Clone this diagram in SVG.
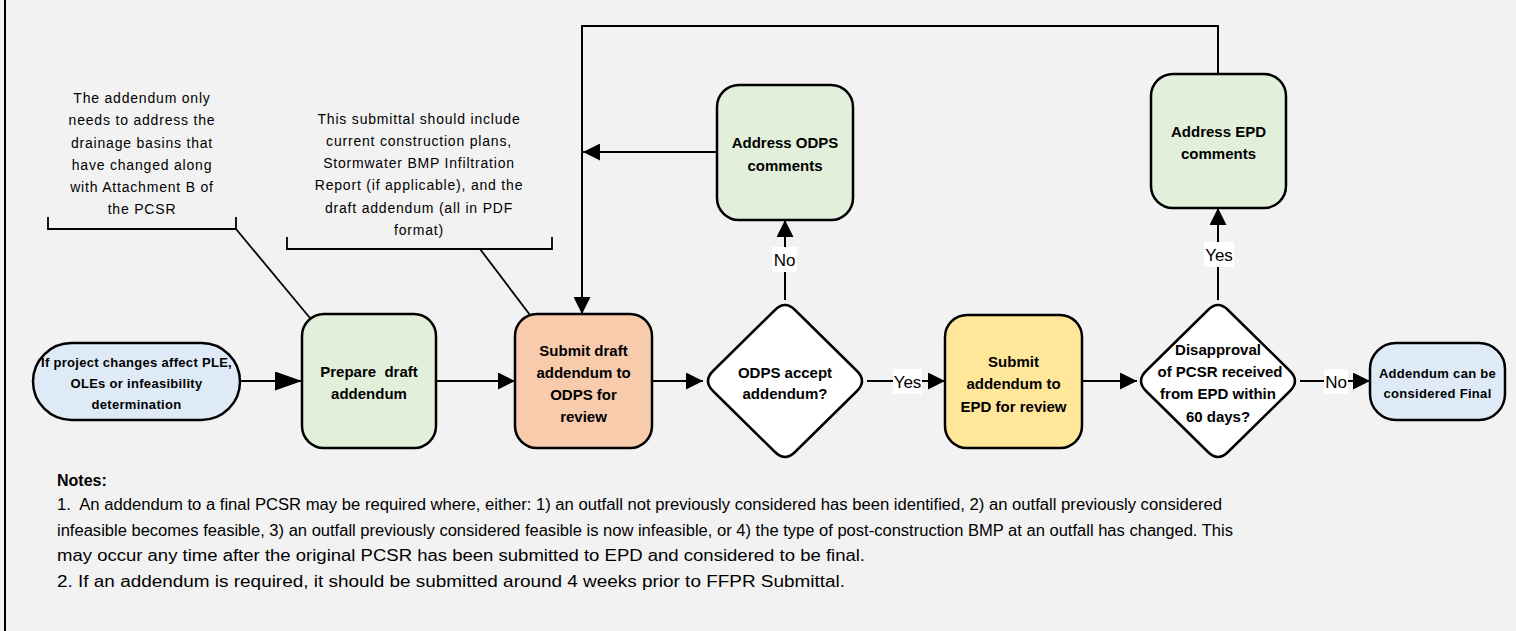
<svg xmlns="http://www.w3.org/2000/svg" width="1516" height="631" viewBox="0 0 1516 631">
<defs>
<style>
.bg{fill:#f2f2f2}
.box{stroke:#000;stroke-width:2.5}
.green{fill:#e2efda}
.blue{fill:#deebf7}
.orange{fill:#f8cbad}
.yellow{fill:#ffe699}
.white{fill:#ffffff}
.nt{font-family:"Liberation Sans",Arial,sans-serif;font-weight:bold;font-size:15px;text-anchor:middle;fill:#000}
.st{font-family:"Liberation Sans",Arial,sans-serif;font-weight:bold;font-size:13px;text-anchor:middle;fill:#000;letter-spacing:0.3px}
.ann{font-family:"Liberation Sans",Arial,sans-serif;font-size:14px;text-anchor:middle;fill:#000;letter-spacing:0.8px}
.lbl{font-family:"Liberation Sans",Arial,sans-serif;font-size:17px;text-anchor:middle;fill:#000}
.note{font-family:"Liberation Sans",Arial,sans-serif;font-size:16px;fill:#000;white-space:pre}
.pre{white-space:pre}
.con{fill:none;stroke:#000;stroke-width:2}
.thin{fill:none;stroke:#000;stroke-width:1.8}
</style>
<marker id="ah" viewBox="0 0 10 10" refX="10" refY="5" markerUnits="userSpaceOnUse" markerWidth="17" markerHeight="17" orient="auto"><path d="M0,0 L10,5 L0,10 z" fill="#000"/></marker>
<marker id="ahb" viewBox="0 0 10 10" refX="10" refY="5" markerUnits="userSpaceOnUse" markerWidth="27" markerHeight="19" orient="auto" preserveAspectRatio="none"><path d="M0,0 L10,5 L0,10 z" fill="#000"/></marker>
</defs>
<rect class="bg" x="0" y="0" width="1516" height="631"/>
<line x1="5" y1="0" x2="5" y2="631" stroke="#000" stroke-width="2"/>

<g id="connectors">
<line class="con" x1="240" y1="381" x2="302" y2="381" marker-end="url(#ahb)"/>
<line class="con" x1="436" y1="381" x2="515" y2="381" marker-end="url(#ah)"/>
<line class="con" x1="652" y1="381" x2="703" y2="381" marker-end="url(#ah)"/>
<line class="con" x1="867" y1="381" x2="945" y2="381" marker-end="url(#ah)"/>
<line class="con" x1="1082" y1="381" x2="1137" y2="381" marker-end="url(#ah)"/>
<line class="con" x1="1300" y1="381" x2="1370" y2="381" marker-end="url(#ah)"/>
<line class="con" x1="785" y1="300" x2="785" y2="220" marker-end="url(#ah)"/>
<line class="con" x1="1218" y1="300" x2="1218" y2="208" marker-end="url(#ah)"/>
<line class="con" x1="717" y1="152" x2="583" y2="152" marker-end="url(#ah)"/>
<polyline class="con" points="1218,74 1218,26 582,26 582,314" marker-end="url(#ah)"/>
<g id="labels">
<rect x="772" y="247" width="25" height="25" fill="#fff"/>
<text class="lbl" x="784.5" y="266">No</text>
<rect x="893" y="369" width="29" height="25" fill="#fff"/>
<text class="lbl" x="907.5" y="388">Yes</text>
<rect x="1204" y="242" width="30" height="25" fill="#fff"/>
<text class="lbl" x="1219" y="261">Yes</text>
<rect x="1324" y="369" width="24" height="25" fill="#fff"/>
<text class="lbl" x="1336" y="388">No</text>
</g>
</g>

<g id="annotation1">
<path class="thin" d="M48,217 L48,229 L236,229 L236,217"/>
<line class="thin" x1="236" y1="229" x2="310" y2="318"/>
<text class="ann" x="142" y="103">The addendum only</text>
<text class="ann" x="142" y="125">needs to address the</text>
<text class="ann" x="142" y="148">drainage basins that</text>
<text class="ann" x="142" y="170">have changed along</text>
<text class="ann" x="142" y="192">with Attachment B of</text>
<text class="ann" x="142" y="214">the PCSR</text>
</g>

<g id="annotation2">
<path class="thin" d="M287,237 L287,249 L552,249 L552,237"/>
<line class="thin" x1="480" y1="249" x2="530" y2="315"/>
<text class="ann" x="419" y="124">This submittal should include</text>
<text class="ann" x="419" y="146">current construction plans,</text>
<text class="ann" x="419" y="168">Stormwater BMP Infiltration</text>
<text class="ann" x="419" y="190">Report (if applicable), and the</text>
<text class="ann" x="419" y="213">draft addendum (all in PDF</text>
<text class="ann" x="419" y="235">format)</text>
</g>

<g id="start">
<rect class="box blue" x="33" y="343" width="207" height="77" rx="38.5" ry="38.5"/>
<text class="st" x="136.5" y="367">If project changes affect PLE,</text>
<text class="st" x="136.5" y="388">OLEs or infeasibility</text>
<text class="st" x="136.5" y="409">determination</text>
</g>

<g id="prepare">
<rect class="box green" x="302" y="314" width="134" height="134" rx="22" ry="22"/>
<text class="nt pre" x="369" y="377">Prepare  draft</text>
<text class="nt" x="369" y="399">addendum</text>
</g>

<g id="submit-odps">
<rect class="box orange" x="515" y="314" width="137" height="134" rx="22" ry="22"/>
<text class="nt" x="583.5" y="356">Submit draft</text>
<text class="nt" x="583.5" y="378">addendum to</text>
<text class="nt" x="583.5" y="400">ODPS for</text>
<text class="nt" x="583.5" y="422">review</text>
</g>

<g id="odps-decision">
<path class="box white" d="M795,310 L857,371 Q867,381 857,391 L795,452 Q785,462 775,452 L713,391 Q703,381 713,371 L775,310 Q785,300 795,310 Z"/>
<text class="nt" x="785" y="378">ODPS accept</text>
<text class="nt" x="785" y="399">addendum?</text>
</g>

<g id="address-odps">
<rect class="box green" x="717" y="85" width="136" height="135" rx="22" ry="22"/>
<text class="nt" x="785" y="148">Address ODPS</text>
<text class="nt" x="785" y="171">comments</text>
</g>

<g id="submit-epd">
<rect class="box yellow" x="945" y="315" width="137" height="133" rx="22" ry="22"/>
<text class="nt" x="1013.5" y="367">Submit</text>
<text class="nt" x="1013.5" y="389">addendum to</text>
<text class="nt" x="1013.5" y="412">EPD for review</text>
</g>

<g id="epd-decision">
<path class="box white" d="M1228,310 L1290,371 Q1300,381 1290,391 L1228,452 Q1218,462 1208,452 L1146,391 Q1136,381 1146,371 L1208,310 Q1218,300 1228,310 Z"/>
<text class="nt" x="1218" y="355">Disapproval</text>
<text class="nt" x="1220" y="377">of PCSR received</text>
<text class="nt" x="1218" y="399">from EPD within</text>
<text class="nt" x="1218" y="422">60 days?</text>
</g>

<g id="address-epd">
<rect class="box green" x="1151" y="74" width="135" height="134" rx="22" ry="22"/>
<text class="nt" x="1218.5" y="137">Address EPD</text>
<text class="nt" x="1218.5" y="159">comments</text>
</g>

<g id="final">
<rect class="box blue" x="1370" y="343" width="135" height="77" rx="26" ry="26"/>
<text class="st" x="1437.5" y="378">Addendum can be</text>
<text class="st" x="1437.5" y="398">considered Final</text>
</g>

<g id="notes">
<text class="note" x="57" y="486" font-weight="bold">Notes:</text>
<text class="note" x="57" y="510" textLength="1165" lengthAdjust="spacingAndGlyphs">1.  An addendum to a final PCSR may be required where, either: 1) an outfall not previously considered has been identified, 2) an outfall previously considered</text>
<text class="note" x="57" y="535.5" textLength="1176" lengthAdjust="spacingAndGlyphs">infeasible becomes feasible, 3) an outfall previously considered feasible is now infeasible, or 4) the type of post-construction BMP at an outfall has changed. This</text>
<text class="note" x="57" y="561" textLength="808" lengthAdjust="spacingAndGlyphs">may occur any time after the original PCSR has been submitted to EPD and considered to be final.</text>
<text class="note" x="57" y="586.5" textLength="788" lengthAdjust="spacingAndGlyphs">2. If an addendum is required, it should be submitted around 4 weeks prior to FFPR Submittal.</text>
</g>
</svg>
